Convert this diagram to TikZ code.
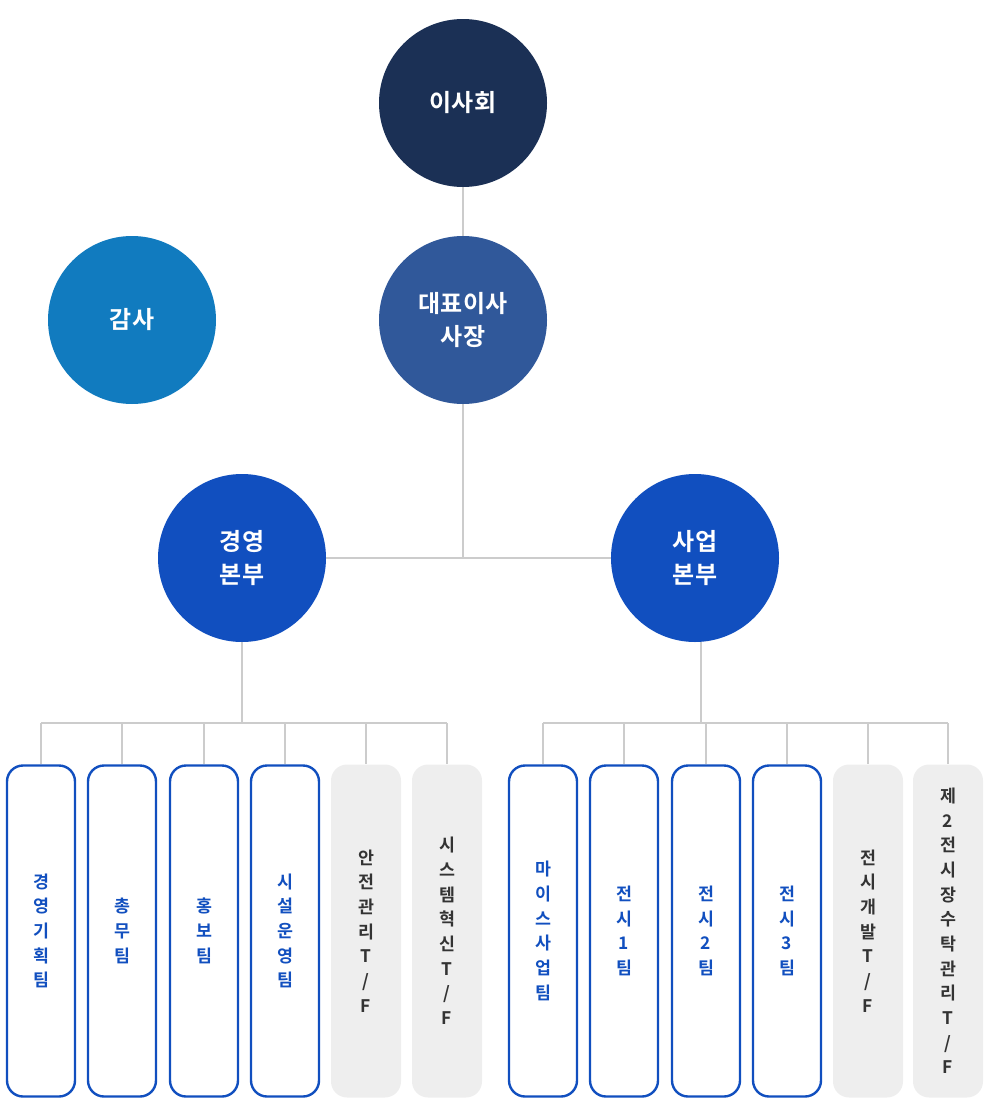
\documentclass[tikz,border=0pt]{standalone}
\usepackage{fontspec}
\newfontfamily\kr{Noto Sans CJK KR}[BoldFont={Noto Sans CJK KR Bold}]
\definecolor{navy}{HTML}{1B3055}
\definecolor{sky}{HTML}{117BBF}
\definecolor{mid}{HTML}{30589A}
\definecolor{royal}{HTML}{114FBF}
\definecolor{grayfill}{HTML}{EEEEEE}
\definecolor{linec}{HTML}{CCCCCC}
\definecolor{darktext}{HTML}{333333}
\tikzset{
 circ/.style={circle,minimum size=168*0.75pt,inner sep=0pt,text=white,font=\kr\bfseries\fontsize{18}{25}\selectfont,align=center},
 bluebox/.style={draw=royal,line width=1.8pt,rounded corners=12pt,fill=white,minimum width=68*0.75pt,minimum height=331*0.75pt,text=royal,font=\kr\bfseries\fontsize{13}{18.5}\selectfont,align=center,inner sep=0pt},
 graybox/.style={fill=grayfill,rounded corners=12pt,minimum width=70*0.75pt,minimum height=333*0.75pt,text=darktext,font=\kr\bfseries\fontsize{13}{18.5}\selectfont,align=center,inner sep=0pt},
 conn/.style={draw=linec,line width=0.8pt}
}
\begin{document}
\begin{tikzpicture}[x=0.75pt,y=-0.75pt]
\useasboundingbox (0,0) rectangle (993,1117);
\node[circ,fill=navy] (isa) at (463,103) {이사회};
\node[circ,fill=sky] (gam) at (132,320) {감사};
\node[circ,fill=mid] (ceo) at (463,320) {대표이사\\사장};
\node[circ,fill=royal] (mg) at (242,558) {경영\\본부};
\node[circ,fill=royal] (biz) at (695,558) {사업\\본부};
\coordinate (j1) at (463,558);
\draw[conn] (isa) -- (ceo);
\draw[conn] (ceo) -- (j1);
\draw[conn] (mg) -- (biz);
\coordinate (m1) at (242,723);
\coordinate (b1) at (701,723);
\draw[conn] (mg) -- (m1);
\draw[conn] (biz.south -| b1) -- (b1);
\foreach \x/\n/\s/\t in {41/a1/bluebox/{경\\영\\기\\획\\팀},122/a2/bluebox/{총\\무\\팀},204/a3/bluebox/{홍\\보\\팀},285/a4/bluebox/{시\\설\\운\\영\\팀},366/a5/graybox/{안\\전\\관\\리\\T\\/\\F},447/a6/graybox/{시\\스\\템\\혁\\신\\T\\/\\F},543/c1/bluebox/{마\\이\\스\\사\\업\\팀},624/c2/bluebox/{전\\시\\1\\팀},706/c3/bluebox/{전\\시\\2\\팀},787/c4/bluebox/{전\\시\\3\\팀},868/c5/graybox/{전\\시\\개\\발\\T\\/\\F},948/c6/graybox/{제\\2\\전\\시\\장\\수\\탁\\관\\리\\T\\/\\F}}{
 \node[\s] (\n) at (\x,931) {\t};
 \coordinate (\n t) at (\x,723);
 \draw[conn] (\n t) -- (\n.north);
}
\draw[conn] (a1t) -- (a6t);
\draw[conn] (c1t) -- (c6t);
\end{tikzpicture}
\end{document}
